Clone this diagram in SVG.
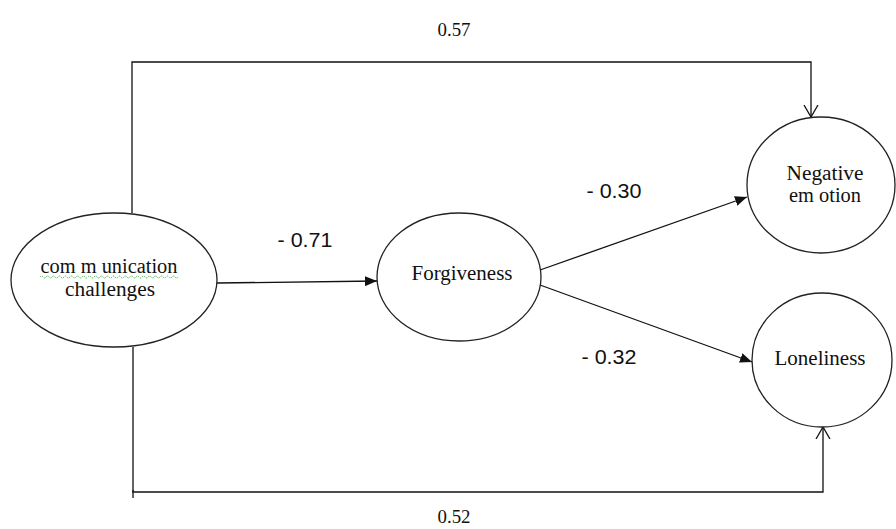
<svg xmlns="http://www.w3.org/2000/svg" width="896" height="529" viewBox="0 0 896 529">
<style>
.node{fill:#fff;stroke:#222;stroke-width:1.3}
.lbl{font-family:"Liberation Serif",serif;font-size:20px;fill:#111;text-anchor:middle}
.num{font-family:"Liberation Serif",serif;font-size:19px;fill:#111;text-anchor:middle}
.coef{font-family:"Liberation Sans",sans-serif;font-size:20px;fill:#111;text-anchor:middle}
.edge{fill:none;stroke:#111;stroke-width:1.3}
</style>
<defs>
<marker id="filled" viewBox="0 0 12 10" refX="12" refY="5" markerWidth="12" markerHeight="10" markerUnits="userSpaceOnUse" orient="auto">
<path d="M0,0 L12,5 L0,10 Z" fill="#111"/>
</marker>
<marker id="open" viewBox="0 0 12 16" refX="12" refY="8" markerWidth="12" markerHeight="16" markerUnits="userSpaceOnUse" orient="auto">
<path d="M0,1 L12,8 L0,15" fill="none" stroke="#111" stroke-width="1.3"/>
</marker>
</defs>
<g id="connectors">
<path class="edge" d="M132,213 L132,62 L811,62 L811,117" marker-end="url(#open)"/>
<path class="edge" d="M133,347 L133,492 L823,492 L823,427" marker-end="url(#open)"/>
<line class="edge" x1="133" y1="490" x2="133" y2="498"/>
<line class="edge" x1="217" y1="283" x2="377" y2="281" marker-end="url(#filled)"/>
<line class="edge" x1="540" y1="270" x2="747" y2="197" marker-end="url(#filled)"/>
<line class="edge" x1="540" y1="285" x2="752" y2="362" marker-end="url(#filled)"/>
<text class="num" x="454" y="36" textLength="33" lengthAdjust="spacingAndGlyphs">0.57</text>
<text class="num" x="454" y="523" textLength="33" lengthAdjust="spacingAndGlyphs">0.52</text>
<text class="coef" x="305" y="247" textLength="55" lengthAdjust="spacingAndGlyphs">- 0.71</text>
<text class="coef" x="614" y="198" textLength="55" lengthAdjust="spacingAndGlyphs">- 0.30</text>
<text class="coef" x="609" y="364" textLength="55" lengthAdjust="spacingAndGlyphs">- 0.32</text>
</g>
<g id="communication">
<ellipse class="node" cx="114" cy="280" rx="103" ry="67"/>
<text class="lbl" x="109" y="273" textLength="137" lengthAdjust="spacingAndGlyphs">com m unication</text>
<text class="lbl" x="110" y="296" textLength="90" lengthAdjust="spacingAndGlyphs">challenges</text>
<path d="M40,277 q1.5,-2 3,0 t3,0 t3,0 t3,0 t3,0 t3,0 t3,0 t3,0 t3,0 t3,0 t3,0 t3,0 t3,0 t3,0 t3,0 t3,0 t3,0 t3,0 t3,0 t3,0 t3,0 t3,0 t3,0 t3,0 t3,0 t3,0 t3,0 t3,0 t3,0 t3,0 t3,0 t3,0 t3,0 t3,0 t3,0 t3,0 t3,0 t3,0 t3,0 t3,0 t3,0 t3,0 t3,0 t3,0 t3,0 t3,0" fill="none" stroke="#4a4" stroke-width="0.9" stroke-dasharray="1.5 1"/>
</g>
<g id="forgiveness">
<ellipse class="node" cx="459" cy="277" rx="82" ry="64"/>
<text class="lbl" x="462" y="280" textLength="101" lengthAdjust="spacingAndGlyphs">Forgiveness</text>
</g>
<g id="negative">
<ellipse class="node" cx="821" cy="185" rx="74" ry="68"/>
<text class="lbl" x="825" y="180" textLength="77" lengthAdjust="spacingAndGlyphs">Negative</text>
<text class="lbl" x="825" y="202" textLength="72" lengthAdjust="spacingAndGlyphs">em otion</text>
</g>
<g id="loneliness">
<ellipse class="node" cx="822" cy="360" rx="70" ry="67"/>
<text class="lbl" x="820" y="365" textLength="91" lengthAdjust="spacingAndGlyphs">Loneliness</text>
</g>
</svg>
